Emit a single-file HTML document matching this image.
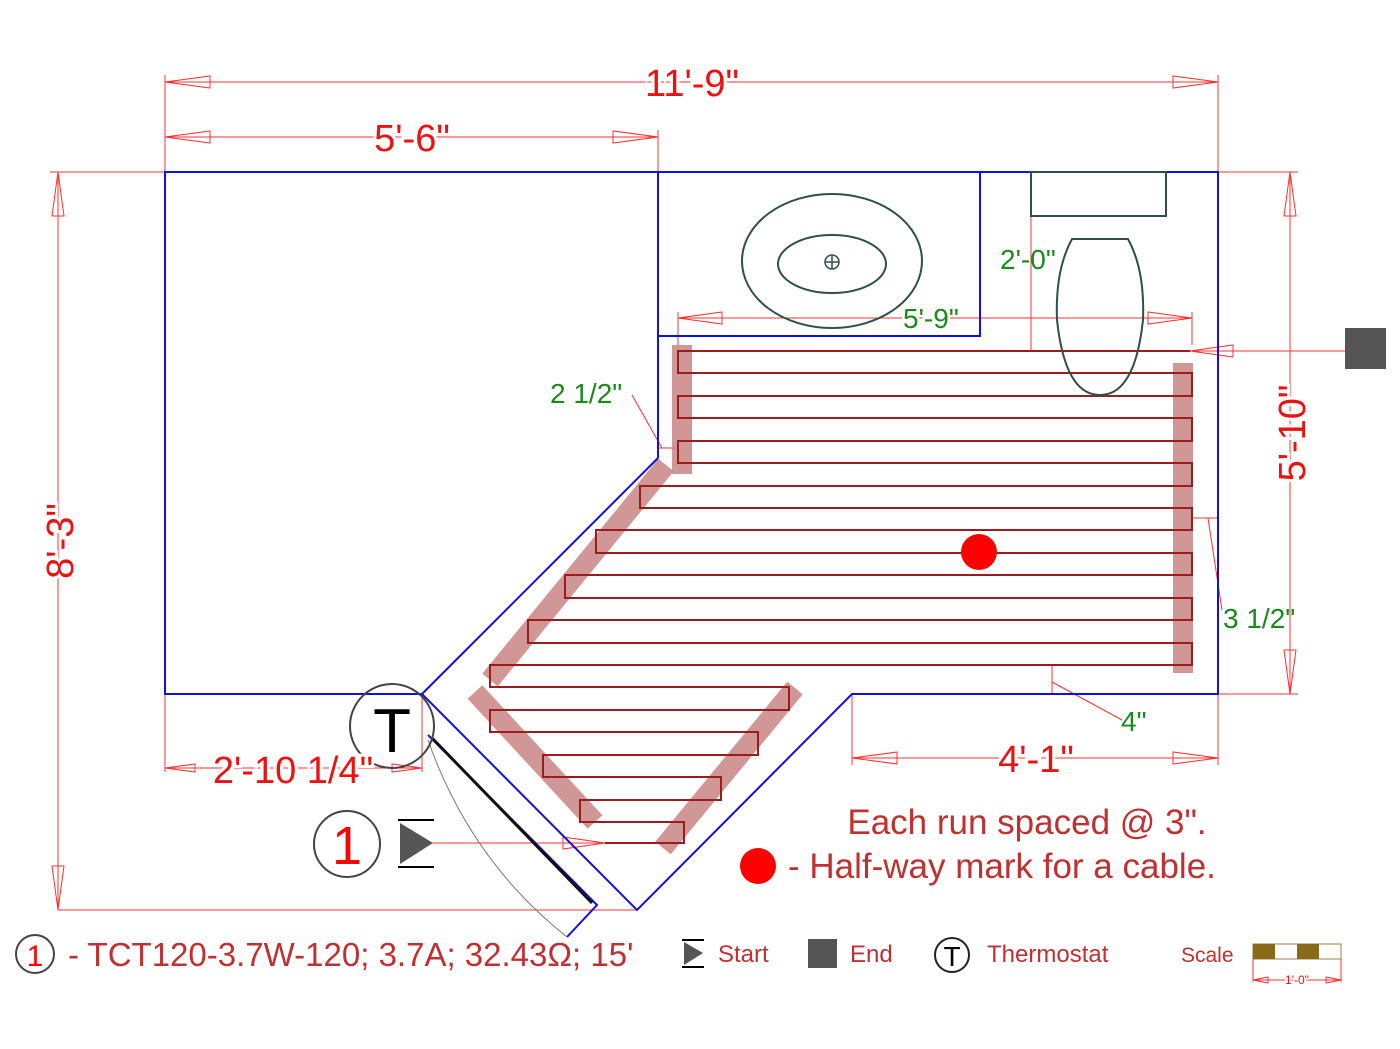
<!DOCTYPE html>
<html><head><meta charset="utf-8"><style>
html,body{margin:0;padding:0;background:#fff;}
svg{display:block;}
text{font-family:"Liberation Sans",sans-serif;}
</style></head><body>
<svg width="1400" height="1049" viewBox="0 0 1400 1049" xmlns="http://www.w3.org/2000/svg">
<g stroke="#ff3030" stroke-width="1" fill="none">
<line x1="165" y1="75" x2="165" y2="172"/><line x1="1218" y1="75" x2="1218" y2="172"/>
<line x1="165" y1="82" x2="1218" y2="82"/>
<polygon points="165,82 210,76 210,88"/><polygon points="1218,82 1173,76 1173,88"/>
<line x1="658" y1="130" x2="658" y2="172"/>
<line x1="165" y1="137" x2="658" y2="137"/>
<polygon points="165,137 210,131 210,143"/><polygon points="658,137 613,131 613,143"/>
<line x1="50" y1="172" x2="165" y2="172"/>
<line x1="58" y1="172" x2="58" y2="910"/>
<line x1="58" y1="910" x2="637" y2="910"/>
<polygon points="58,172 52,216 64,216"/><polygon points="58,910 52,866 64,866"/>
<line x1="1218" y1="172" x2="1298" y2="172"/><line x1="1218" y1="694" x2="1298" y2="694"/>
<line x1="1290" y1="172" x2="1290" y2="694"/>
<polygon points="1290,172 1284,216 1296,216"/><polygon points="1290,694 1284,650 1296,650"/>
<line x1="852" y1="694" x2="852" y2="765"/><line x1="1218" y1="694" x2="1218" y2="765"/>
<line x1="852" y1="758" x2="1218" y2="758"/>
<polygon points="852,758 897,752 897,764"/><polygon points="1218,758 1173,752 1173,764"/>
<line x1="165" y1="694" x2="165" y2="772"/><line x1="422" y1="694" x2="422" y2="772"/>
<line x1="165" y1="768" x2="422" y2="768"/>
<polygon points="165,768 195,764 195,772"/><polygon points="422,768 392,764 392,772"/>
<line x1="678" y1="312" x2="678" y2="345"/><line x1="1192" y1="312" x2="1192" y2="345"/>
<line x1="678" y1="318" x2="1192" y2="318"/>
<polygon points="678,318 722,312 722,324"/><polygon points="1192,318 1148,312 1148,324"/>
<line x1="1031" y1="172" x2="1031" y2="351"/>
<line x1="1190" y1="351" x2="1345" y2="351"/>
<polygon points="1190,351 1233,345 1233,357"/>
<line x1="632" y1="395" x2="662" y2="448"/><line x1="658" y1="448" x2="678" y2="448"/>
<line x1="1192" y1="518" x2="1218" y2="518"/><line x1="1208" y1="518" x2="1222" y2="610"/>
<line x1="1052" y1="665" x2="1052" y2="694"/><line x1="1052" y1="682" x2="1122" y2="720"/>
<line x1="432" y1="843" x2="605" y2="843"/>
<polygon points="605,843 563,837 563,849"/>
</g>
<g stroke="#c98585" stroke-opacity="0.85" stroke-width="20" fill="none">
<line x1="682" y1="345" x2="682" y2="474"/>
<line x1="666" y1="465" x2="490" y2="680"/>
<line x1="475" y1="692" x2="595" y2="822"/>
<line x1="795" y1="688" x2="663" y2="848"/>
<line x1="1183" y1="363" x2="1183" y2="673"/>
</g>
<polyline fill="none" stroke="#9a1c1c" stroke-width="2" points="1190,351 678,351 678,373 1192,373 1192,396 678,396 678,418 1192,418 1192,441 678,441 678,463 1192,463 1192,486 640,486 640,508 1192,508 1192,530 596,530 596,553 1192,553 1192,575 565,575 565,598 1192,598 1192,620 528,620 528,643 1192,643 1192,665 490,665 490,687 789,687 789,710 490,710 490,732 758,732 758,755 543,755 543,777 721,777 721,800 580,800 580,822 684,822 684,843 605,843"/>
<g stroke="#1010e0" stroke-width="2" fill="none">
<polyline points="980,172 1218,172 1218,694 852,694 637,910 422,694 165,694 165,172 980,172 980,336 658,336"/>
<line x1="658" y1="172" x2="658" y2="458"/>
<line x1="658" y1="458" x2="422" y2="694"/>
<polyline points="428,735 597,905 567,937"/>
</g>
<line x1="432" y1="738" x2="592" y2="903" stroke="#111" stroke-width="3"/>
<path d="M428,740 Q470,860 567,937" stroke="#777" stroke-width="1" fill="none"/>
<g stroke="#2f4f4f" stroke-width="2" fill="none">
<ellipse cx="832" cy="261" rx="90" ry="67"/>
<ellipse cx="832" cy="264" rx="54" ry="29"/>
<circle cx="832" cy="262" r="7" stroke-width="1.5"/>
<line x1="825" y1="262" x2="839" y2="262" stroke-width="1.5"/><line x1="832" y1="255" x2="832" y2="269" stroke-width="1.5"/>
<rect x="1031" y="172" width="135" height="44"/>
<path d="M1072,239 L1128,239 Q1145,270 1143,320 Q1135,395 1100,395 Q1065,395 1057,320 Q1055,270 1072,239 Z"/>
</g>
<rect x="1345" y="328" width="41" height="41" fill="#555"/>
<circle cx="979" cy="552" r="18" fill="#ff0000"/>
<circle cx="392" cy="726" r="42" fill="none" stroke="#444" stroke-width="2"/>
<text x="392" y="752" font-size="62" text-anchor="middle" fill="#000">T</text>
<circle cx="347" cy="844" r="33" fill="none" stroke="#444" stroke-width="2"/>
<text x="347" y="864" font-size="54" text-anchor="middle" fill="#f00">1</text>
<line x1="398" y1="820" x2="434" y2="820" stroke="#000" stroke-width="2"/>
<line x1="398" y1="867" x2="434" y2="867" stroke="#000" stroke-width="2"/>
<polygon points="400,823 433,843 400,864" fill="#555"/>
<g fill="#ee1111" font-size="38" stroke="#fff" stroke-width="6" paint-order="stroke">
<text x="692" y="96" text-anchor="middle">11'-9"</text>
<text x="412" y="151" text-anchor="middle">5'-6"</text>
<text x="1036" y="772" text-anchor="middle">4'-1"</text>
<text x="293" y="783" text-anchor="middle">2'-10 1/4"</text>
<text transform="translate(73,541) rotate(-90)" text-anchor="middle">8'-3"</text>
<text transform="translate(1305,433) rotate(-90)" text-anchor="middle">5'-10"</text>
</g>
<g fill="#1a8a1a" font-size="28">
<text x="550" y="403">2 1/2"</text>
<text x="1000" y="269">2'-0"</text>
<text x="903" y="328" stroke="#fff" stroke-width="5" paint-order="stroke">5'-9"</text>
<text x="1223" y="628">3 1/2"</text>
<text x="1121" y="731">4"</text>
</g>
<g fill="#c03030" font-size="35">
<text x="1027" y="834" text-anchor="middle">Each run spaced @ 3".</text>
<text x="788" y="878">- Half-way mark for a cable.</text>
</g>
<circle cx="758" cy="866" r="18" fill="#ff0000"/>
<circle cx="35" cy="954" r="19" fill="none" stroke="#444" stroke-width="2"/>
<text x="35" y="966" font-size="30" text-anchor="middle" fill="#f00">1</text>
<text x="68" y="966" font-size="33" fill="#c03030">- TCT120-3.7W-120; 3.7A; 32.43Ω; 15'</text>
<line x1="682" y1="940" x2="704" y2="940" stroke="#000" stroke-width="2"/>
<line x1="682" y1="967" x2="704" y2="967" stroke="#000" stroke-width="2"/>
<polygon points="684,942 703,953 684,965" fill="#555"/>
<text x="718" y="962" font-size="24" fill="#c03030">Start</text>
<rect x="808" y="939" width="29" height="29" fill="#555"/>
<text x="850" y="962" font-size="24" fill="#c03030">End</text>
<circle cx="952" cy="955" r="17" fill="none" stroke="#222" stroke-width="2"/>
<text x="952" y="966" font-size="28" text-anchor="middle" fill="#000">T</text>
<text x="987" y="962" font-size="24" fill="#c03030">Thermostat</text>
<text x="1181" y="962" font-size="21" fill="#c03030">Scale</text>
<rect x="1253" y="944" width="88" height="15" fill="#fff" stroke="#a08040"/>
<rect x="1253" y="944" width="22" height="15" fill="#8a6a1a"/>
<rect x="1297" y="944" width="22" height="15" fill="#8a6a1a"/>
<g stroke="#ff3030" stroke-width="1" fill="none">
<line x1="1253" y1="959" x2="1253" y2="982"/><line x1="1341" y1="959" x2="1341" y2="982"/>
<line x1="1253" y1="980" x2="1341" y2="980"/>
<polygon points="1253,980 1268,977 1268,983"/><polygon points="1341,980 1326,977 1326,983"/>
</g>
<text x="1297" y="984" font-size="12" text-anchor="middle" fill="#ee1111" stroke="#fff" stroke-width="3" paint-order="stroke">1'-0"</text>
</svg>
</body></html>
